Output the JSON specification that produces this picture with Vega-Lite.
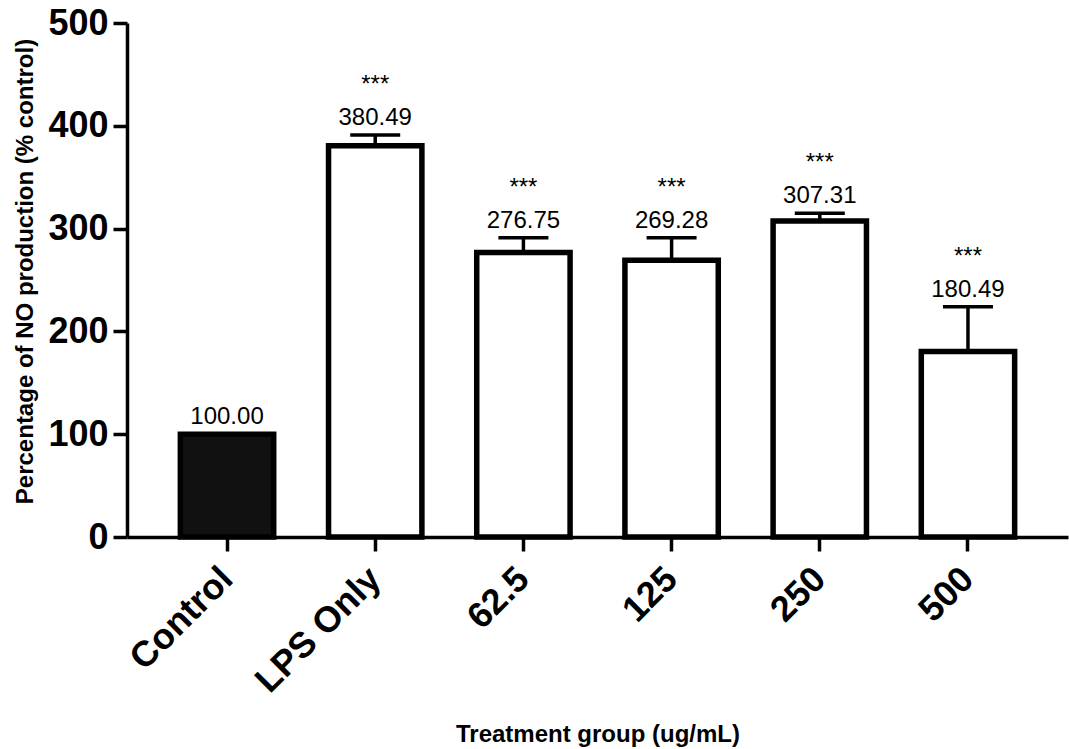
{
  "$schema": "https://vega.github.io/schema/vega-lite/v6.json",
  "width": 941,
  "height": 514,
  "autosize": {"type": "none"},
  "padding": {"left": 127, "top": 23, "right": 1, "bottom": 212},
  "background": "white",
  "config": {"view": {"stroke": null}, "font": "Liberation Sans"},
  "data": {
    "values": [
      {"group": "Control", "mean": 100, "upper": 100, "label": "100.00", "sig": ""},
      {"group": "LPS Only", "mean": 380.49, "upper": 391, "label": "380.49", "sig": "***"},
      {"group": "62.5", "mean": 276.75, "upper": 291, "label": "276.75", "sig": "***"},
      {"group": "125", "mean": 269.28, "upper": 291, "label": "269.28", "sig": "***"},
      {"group": "250", "mean": 307.31, "upper": 315, "label": "307.31", "sig": "***"},
      {"group": "500", "mean": 180.49, "upper": 224, "label": "180.49", "sig": "***"}
    ]
  },
  "encoding": {
    "x": {
      "field": "group",
      "type": "nominal",
      "sort": null,
      "scale": {"paddingInner": 0.37, "paddingOuter": 0.36},
      "axis": {
        "title": "Treatment group (ug/mL)",
        "titleFont": "Liberation Sans",
        "titleFontSize": 24,
        "titleFontWeight": "bold",
        "titleColor": "black",
        "titleY": 204,
        "titleBaseline": "alphabetic",
        "labelAngle": -45,
        "labelAlign": "right",
        "labelBaseline": "middle",
        "labelFont": "Liberation Sans",
        "labelFontSize": 36,
        "labelFontWeight": "bold",
        "labelColor": "black",
        "labelPadding": 22,
        "labelLimit": 0,
        "labelOverlap": false,
        "labelBound": false,
        "tickSize": 14,
        "tickWidth": 3.5,
        "tickColor": "black",
        "domainColor": "black",
        "domainWidth": 3.5,
        "grid": false
      }
    }
  },
  "layer": [
    {
      "mark": {"type": "bar", "stroke": "black", "strokeWidth": 5.5},
      "encoding": {
        "y": {
          "field": "mean",
          "type": "quantitative",
          "scale": {"domain": [0, 500], "nice": false},
          "axis": {
            "title": "Percentage of NO production (% control)",
            "titleFont": "Liberation Sans",
            "titleFontSize": 24,
            "titleFontWeight": "bold",
            "titleColor": "black",
            "titlePadding": 10,
            "titleY": 248,
            "values": [0, 100, 200, 300, 400, 500],
            "labelFont": "Liberation Sans",
            "labelFontSize": 36,
            "labelFontWeight": "bold",
            "labelColor": "black",
            "labelPadding": 5,
            "labelFlush": false,
            "labelOverlap": false,
            "tickSize": 14,
            "tickWidth": 3.5,
            "tickColor": "black",
            "domainColor": "black",
            "domainWidth": 3.5,
            "grid": false
          }
        },
        "fill": {
          "condition": {"test": "datum.group === 'Control'", "value": "#111111"},
          "value": "white"
        }
      }
    },
    {
      "transform": [{"filter": "datum.upper > datum.mean"}],
      "mark": {"type": "rule", "color": "black", "strokeWidth": 3.5},
      "encoding": {
        "y": {"field": "mean", "type": "quantitative"},
        "y2": {"field": "upper"}
      }
    },
    {
      "transform": [{"filter": "datum.upper > datum.mean"}],
      "mark": {"type": "tick", "color": "black", "orient": "horizontal", "size": 50, "thickness": 3.5, "opacity": 1},
      "encoding": {
        "y": {"field": "upper", "type": "quantitative"}
      }
    },
    {
      "mark": {"type": "text", "font": "Liberation Sans", "fontSize": 24, "color": "black", "baseline": "alphabetic", "dy": -10},
      "encoding": {
        "y": {"field": "upper", "type": "quantitative"},
        "text": {"field": "label"}
      }
    },
    {
      "mark": {"type": "text", "font": "Liberation Sans", "fontSize": 24, "color": "black", "baseline": "alphabetic", "dy": -43},
      "encoding": {
        "y": {"field": "upper", "type": "quantitative"},
        "text": {"field": "sig"}
      }
    }
  ]
}
